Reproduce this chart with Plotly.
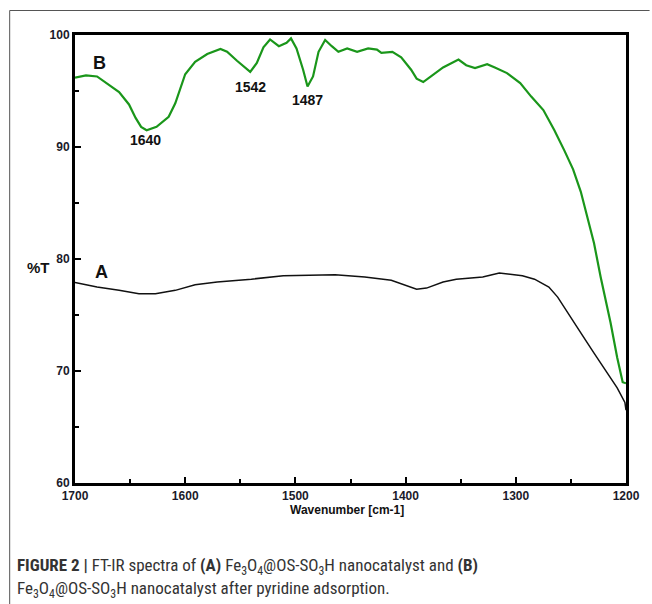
import plotly.graph_objects as go

# Curve B (after pyridine adsorption), green
wn_b = [1700, 1690, 1680, 1670, 1660, 1651, 1645, 1640, 1635, 1626, 1615, 1609, 1600, 1591, 1580,
        1568, 1562, 1553, 1546, 1541, 1535, 1529, 1523, 1515, 1508, 1504, 1499, 1493, 1489, 1484,
        1479, 1473, 1467, 1461, 1453, 1444, 1434, 1426, 1422, 1412, 1404, 1395, 1390, 1384, 1377,
        1366, 1352, 1345, 1337, 1326, 1319, 1308, 1296, 1286, 1275, 1265, 1256, 1248, 1241, 1234,
        1229, 1223, 1214, 1208, 1203, 1200]
t_b = [96.2, 96.4, 96.3, 95.6, 94.9, 93.8, 92.6, 91.8, 91.5, 91.8, 92.7, 93.9, 96.5, 97.6, 98.3,
       98.75, 98.5, 97.7, 97.1, 96.7, 97.5, 98.9, 99.6, 99.0, 99.3, 99.7, 98.8, 96.9, 95.4, 96.3,
       98.5, 99.55, 99.0, 98.5, 98.8, 98.5, 98.8, 98.7, 98.4, 98.5, 98.0, 96.9, 96.1, 95.8, 96.3,
       97.1, 97.8, 97.3, 97.05, 97.4, 97.1, 96.6, 95.7, 94.5, 93.3, 91.5, 89.7, 88.0, 86.0, 83.3,
       81.4, 78.4, 74.3, 71.2, 69.0, 68.9]

# Curve A (nanocatalyst), black
wn_a = [1700, 1680, 1660, 1642, 1627, 1609, 1591, 1571, 1540, 1511, 1464, 1437, 1413, 1401, 1390,
        1381, 1366, 1354, 1330, 1315, 1294, 1283, 1270, 1262, 1253, 1241, 1229, 1217, 1208, 1201, 1200]
t_a = [77.9, 77.5, 77.2, 76.9, 76.9, 77.2, 77.7, 77.95, 78.2, 78.5, 78.6, 78.4, 78.1, 77.7, 77.3,
       77.4, 77.95, 78.2, 78.4, 78.75, 78.5, 78.2, 77.5, 76.6, 75.2, 73.4, 71.6, 69.8, 68.5, 67.2, 66.5]

peak_labels = ["1640", "1542", "1487"]
peak_x = [1636, 1541, 1489]
peak_y = [90.6, 95.4, 94.2]

curve_labels = ["B", "A"]
curve_lx = [1678, 1676]
curve_ly = [97.5, 78.8]

x_ticks = [1700, 1600, 1500, 1400, 1300, 1200]
y_ticks = [60, 70, 80, 90, 100]

W, H = 652, 604
L, R, T, B = 75, 16, 35, 121
pw, ph = W - L - R, H - T - B


def px(x):
    return (x - L) / pw


def py(y):
    return (H - B - y) / ph


fig = go.Figure()
fig.add_trace(go.Scatter(x=wn_a, y=t_a, mode="lines",
                         line=dict(color="#111111", width=1.5), showlegend=False))
fig.add_trace(go.Scatter(x=wn_b, y=t_b, mode="lines",
                         line=dict(color="#1a961a", width=2.2), showlegend=False))

tick_font = dict(family="Liberation Sans, Arial", size=12, color="#1a1a2a", weight="bold")

fig.update_layout(
    width=W, height=H, autosize=False,
    margin=dict(l=L, r=R, t=T, b=B),
    paper_bgcolor="white", plot_bgcolor="white",
    xaxis=dict(range=[1700, 1200], tickvals=x_ticks, showgrid=False, zeroline=False,
               showline=True, linecolor="black", linewidth=3, mirror=True,
               ticks="inside", ticklen=6, tickwidth=2, tickcolor="black",
               minor=dict(dtick=50, tick0=1700, ticks="inside", ticklen=4, tickwidth=2, tickcolor="black"),
               tickfont=tick_font),
    yaxis=dict(range=[60, 100], tickvals=y_ticks, showgrid=False, zeroline=False,
               showline=True, linecolor="black", linewidth=3, mirror=True,
               ticks="inside", ticklen=6, tickwidth=2, tickcolor="black",
               minor=dict(dtick=5, tick0=60, ticks="inside", ticklen=4, tickwidth=2, tickcolor="black"),
               tickfont=tick_font),
)

ann = []
for t, x, y in zip(peak_labels, peak_x, peak_y):
    ann.append(dict(x=x, y=y, text=t, showarrow=False, xanchor="center", yanchor="middle",
                    font=dict(family="Liberation Sans, Arial", size=14, color="#111", weight="bold")))
for t, x, y in zip(curve_labels, curve_lx, curve_ly):
    ann.append(dict(x=x, y=y, text=t, showarrow=False, xanchor="center", yanchor="middle",
                    font=dict(family="Liberation Sans, Arial", size=18, color="#111", weight="bold")))

ann.append(dict(xref="paper", yref="paper", x=px(38), y=py(267), text="%T", showarrow=False,
                xanchor="center", yanchor="middle",
                font=dict(family="Liberation Sans, Arial", size=15, color="#111", weight="bold")))
ann.append(dict(xref="paper", yref="paper", x=px(352), y=py(510), text="Wavenumber [cm-1]",
                showarrow=False, xanchor="center", yanchor="middle",
                font=dict(family="Liberation Sans, Arial", size=12, color="#111", weight="bold")))

cap_font = dict(family="Liberation Sans Narrow, Arial Narrow, Roboto Condensed, Liberation Sans",
                size=17, color="#333333")
ann.append(dict(xref="paper", yref="paper", x=px(14), y=py(566), xanchor="left", yanchor="middle",
                text="<b>FIGURE 2 |</b> FT-IR spectra of <b>(A)</b> Fe<sub>3</sub>O<sub>4</sub>@OS-SO<sub>3</sub>H nanocatalyst and <b>(B)</b>",
                showarrow=False, font=cap_font))
ann.append(dict(xref="paper", yref="paper", x=px(14), y=py(589), xanchor="left", yanchor="middle",
                text="Fe<sub>3</sub>O<sub>4</sub>@OS-SO<sub>3</sub>H nanocatalyst after pyridine adsorption.",
                showarrow=False, font=cap_font))
fig.update_layout(annotations=ann)

# outer figure frame (left and top edges)
fig.add_shape(type="line", xref="paper", yref="paper", x0=px(8.5), y0=py(10.5), x1=px(660), y1=py(10.5),
              line=dict(color="#555555", width=1))
fig.add_shape(type="line", xref="paper", yref="paper", x0=px(8.5), y0=py(10.5), x1=px(8.5), y1=py(610),
              line=dict(color="#555555", width=1))

fig.write_html("out.html", config={"responsive": False})
